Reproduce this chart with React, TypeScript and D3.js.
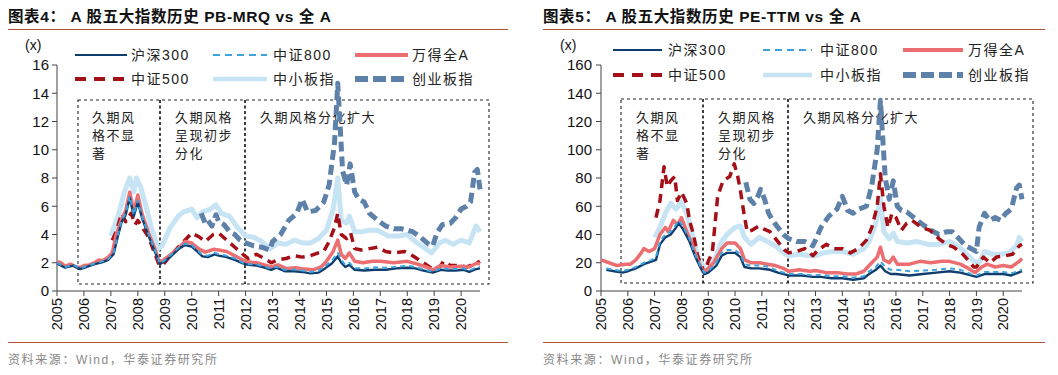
import React from "react";
import * as d3 from "d3";

type Pt = [number, number];

const years = d3.range(2005, 2021);
const pbTicks = [0, 2, 4, 6, 8, 10, 12, 14, 16];
const peTicks = [0, 20, 40, 60, 80, 100, 120, 140, 160];

const seriesNames = ["沪深300", "中证800", "万得全A", "中证500", "中小板指", "创业板指"];

// ---------- PB-MRQ ----------
const pbHS300: Pt[] = [
  [2005.0, 1.95], [2005.3, 1.65], [2005.6, 1.8], [2005.85, 1.55], [2006.1, 1.7], [2006.4, 1.9], [2006.7, 2.05], [2006.9, 2.2],
  [2007.1, 2.6], [2007.25, 3.8], [2007.4, 4.9], [2007.55, 5.4], [2007.7, 6.6], [2007.85, 5.3], [2008.0, 6.3], [2008.15, 5.2],
  [2008.4, 3.9], [2008.65, 2.7], [2008.82, 1.9], [2008.95, 2.05], [2009.2, 2.4], [2009.5, 2.95], [2009.75, 3.25], [2010.0, 3.15],
  [2010.2, 2.8], [2010.4, 2.45], [2010.6, 2.4], [2010.85, 2.6], [2011.0, 2.5], [2011.3, 2.4], [2011.6, 2.2], [2011.9, 1.95],
  [2012.1, 1.85], [2012.4, 1.8], [2012.7, 1.65], [2012.95, 1.5], [2013.15, 1.65], [2013.45, 1.4], [2013.8, 1.4], [2014.1, 1.35],
  [2014.4, 1.25], [2014.7, 1.3], [2014.95, 1.6], [2015.2, 1.95], [2015.42, 2.45], [2015.55, 2.0], [2015.7, 1.7], [2015.85, 1.85],
  [2016.05, 1.5], [2016.4, 1.45], [2016.8, 1.5], [2017.2, 1.5], [2017.6, 1.6], [2018.0, 1.65], [2018.3, 1.6], [2018.6, 1.45],
  [2018.95, 1.3], [2019.25, 1.5], [2019.5, 1.45], [2019.8, 1.45], [2020.1, 1.5], [2020.3, 1.35], [2020.55, 1.55], [2020.7, 1.6],
];
const pbZZ800: Pt[] = [
  [2005.0, 2.0], [2005.3, 1.7], [2005.6, 1.85], [2005.85, 1.6], [2006.1, 1.75], [2006.4, 1.95], [2006.7, 2.1], [2006.9, 2.25],
  [2007.1, 2.7], [2007.25, 3.9], [2007.4, 5.0], [2007.55, 5.5], [2007.7, 6.7], [2007.85, 5.4], [2008.0, 6.4], [2008.15, 5.3],
  [2008.4, 4.0], [2008.65, 2.8], [2008.82, 1.95], [2008.95, 2.1], [2009.2, 2.5], [2009.5, 3.05], [2009.75, 3.35], [2010.0, 3.25],
  [2010.2, 2.9], [2010.4, 2.55], [2010.6, 2.5], [2010.85, 2.7], [2011.0, 2.6], [2011.3, 2.5], [2011.6, 2.3], [2011.9, 2.0],
  [2012.1, 1.9], [2012.4, 1.88], [2012.7, 1.72], [2012.95, 1.58], [2013.15, 1.72], [2013.45, 1.5], [2013.8, 1.52], [2014.1, 1.45],
  [2014.4, 1.35], [2014.7, 1.42], [2014.95, 1.75], [2015.2, 2.15], [2015.42, 2.7], [2015.55, 2.2], [2015.7, 1.85], [2015.85, 2.0],
  [2016.05, 1.62], [2016.4, 1.6], [2016.8, 1.68], [2017.2, 1.65], [2017.6, 1.72], [2018.0, 1.78], [2018.3, 1.7], [2018.6, 1.52],
  [2018.95, 1.38], [2019.25, 1.6], [2019.5, 1.55], [2019.8, 1.55], [2020.1, 1.6], [2020.3, 1.45], [2020.55, 1.65], [2020.7, 1.72],
];
const pbWindA: Pt[] = [
  [2005.0, 2.08], [2005.15, 2.0], [2005.3, 1.75], [2005.5, 1.9], [2005.65, 1.75], [2005.85, 1.65], [2006.0, 1.8], [2006.2, 1.85],
  [2006.4, 2.0], [2006.55, 2.2], [2006.7, 2.15], [2006.9, 2.4], [2007.05, 2.7], [2007.2, 4.0], [2007.4, 5.1], [2007.55, 5.7],
  [2007.7, 7.0], [2007.85, 5.6], [2008.0, 6.8], [2008.15, 5.5], [2008.4, 4.1], [2008.65, 2.9], [2008.8, 2.05], [2008.95, 2.2],
  [2009.2, 2.55], [2009.5, 3.0], [2009.75, 3.5], [2010.0, 3.4], [2010.25, 3.0], [2010.5, 2.75], [2010.8, 2.95], [2011.0, 2.9],
  [2011.3, 2.8], [2011.6, 2.5], [2011.9, 2.2], [2012.1, 2.05], [2012.4, 2.0], [2012.7, 1.85], [2012.95, 1.7], [2013.2, 1.85],
  [2013.5, 1.6], [2013.85, 1.65], [2014.2, 1.55], [2014.5, 1.5], [2014.8, 1.7], [2015.0, 2.1], [2015.25, 2.8], [2015.42, 3.6],
  [2015.55, 2.6], [2015.7, 2.3], [2015.85, 2.7], [2016.05, 2.1], [2016.35, 2.0], [2016.7, 2.1], [2017.0, 2.1], [2017.5, 2.0],
  [2018.0, 2.1], [2018.3, 1.95], [2018.7, 1.7], [2018.95, 1.5], [2019.25, 1.8], [2019.6, 1.7], [2020.0, 1.75], [2020.3, 1.7],
  [2020.55, 1.95], [2020.7, 1.95],
];
const pbZZ500: Pt[] = [
  [2007.05, 3.6], [2007.2, 4.2], [2007.4, 5.5], [2007.55, 4.9], [2007.75, 5.5], [2007.9, 4.7], [2008.0, 5.0], [2008.2, 4.4],
  [2008.4, 3.8], [2008.6, 2.8], [2008.8, 1.8], [2008.95, 1.9], [2009.2, 2.5], [2009.5, 3.1], [2009.7, 3.5], [2010.0, 4.1],
  [2010.3, 3.8], [2010.5, 3.5], [2010.8, 4.0], [2011.0, 4.1], [2011.3, 3.6], [2011.6, 3.1], [2011.9, 2.6], [2012.1, 2.3],
  [2012.4, 2.6], [2012.7, 2.3], [2012.95, 2.0], [2013.2, 2.2], [2013.5, 2.3], [2013.8, 2.5], [2014.1, 2.4], [2014.4, 2.5],
  [2014.7, 2.7], [2014.9, 2.8], [2015.1, 3.5], [2015.3, 4.5], [2015.42, 5.5], [2015.55, 4.0], [2015.75, 3.7], [2015.9, 4.1],
  [2016.05, 3.0], [2016.3, 2.9], [2016.6, 3.0], [2016.9, 3.1], [2017.2, 2.8], [2017.5, 2.7], [2017.9, 2.8], [2018.2, 2.5],
  [2018.6, 2.0], [2018.9, 1.6], [2019.2, 1.7], [2019.35, 2.1], [2019.6, 1.8], [2019.9, 1.8], [2020.2, 1.7], [2020.5, 1.9],
  [2020.7, 2.1],
];
const pbZXB: Pt[] = [
  [2007.0, 3.9], [2007.3, 5.5], [2007.5, 7.0], [2007.7, 8.0], [2007.85, 7.0], [2007.95, 8.0], [2008.1, 7.4], [2008.3, 6.0],
  [2008.5, 4.5], [2008.75, 3.0], [2008.9, 3.2], [2009.2, 4.5], [2009.5, 5.3], [2009.7, 5.6], [2010.0, 5.8], [2010.2, 5.2],
  [2010.4, 5.6], [2010.7, 5.8], [2010.9, 6.1], [2011.1, 5.5], [2011.4, 5.3], [2011.7, 4.5], [2012.0, 3.9], [2012.3, 3.8],
  [2012.6, 3.5], [2012.9, 3.0], [2013.2, 3.4], [2013.5, 3.3], [2013.8, 3.6], [2014.1, 3.4], [2014.4, 3.4], [2014.7, 3.7],
  [2015.0, 4.3], [2015.25, 5.8], [2015.42, 8.0], [2015.55, 5.0], [2015.75, 4.8], [2015.85, 5.3], [2016.05, 4.2], [2016.3, 4.2],
  [2016.6, 4.3], [2016.9, 4.3], [2017.3, 3.9], [2017.7, 3.9], [2018.0, 4.0], [2018.3, 3.5], [2018.6, 3.1], [2018.9, 2.7],
  [2019.2, 3.4], [2019.4, 3.6], [2019.7, 3.3], [2020.0, 3.6], [2020.3, 3.4], [2020.55, 4.6], [2020.7, 4.2],
];
const pbCYB: Pt[] = [
  [2010.35, 5.5], [2010.5, 4.8], [2010.6, 5.0], [2010.75, 4.6], [2010.9, 5.4], [2011.0, 4.9], [2011.2, 4.7], [2011.4, 4.2],
  [2011.6, 4.0], [2011.8, 3.6], [2012.0, 3.4], [2012.3, 3.2], [2012.6, 3.1], [2012.9, 2.9], [2013.0, 3.5], [2013.3, 4.0],
  [2013.6, 5.0], [2013.9, 5.5], [2014.1, 6.5], [2014.3, 5.6], [2014.6, 5.7], [2014.9, 6.3], [2015.1, 7.5], [2015.3, 10.5],
  [2015.42, 14.7], [2015.5, 12.0], [2015.6, 8.5], [2015.75, 7.5], [2015.88, 9.0], [2016.05, 7.0], [2016.2, 6.5], [2016.4, 6.3],
  [2016.6, 5.5], [2016.9, 5.0], [2017.2, 4.6], [2017.5, 4.4], [2017.8, 4.4], [2018.0, 4.3], [2018.2, 4.2], [2018.5, 3.8],
  [2018.8, 3.3], [2018.95, 3.2], [2019.1, 4.1], [2019.3, 4.7], [2019.6, 4.8], [2019.8, 5.2], [2020.0, 5.8], [2020.2, 6.0],
  [2020.35, 6.3], [2020.5, 8.4], [2020.6, 8.6], [2020.7, 7.2],
];

// ---------- PE-TTM ----------
const peHS300: Pt[] = [
  [2005.2, 15], [2005.5, 14], [2005.8, 13], [2006.0, 14], [2006.3, 16], [2006.6, 19], [2006.9, 21], [2007.05, 22],
  [2007.2, 33], [2007.4, 38], [2007.6, 40], [2007.8, 45], [2007.9, 48], [2008.05, 44], [2008.3, 35], [2008.5, 25],
  [2008.7, 17], [2008.85, 12], [2009.0, 13], [2009.3, 18], [2009.5, 25], [2009.7, 27], [2010.0, 27], [2010.2, 24],
  [2010.35, 17], [2010.6, 16], [2010.9, 16], [2011.3, 15], [2011.6, 13], [2012.0, 11], [2012.5, 11], [2012.9, 10],
  [2013.2, 10], [2013.6, 9], [2014.0, 9], [2014.4, 8], [2014.8, 9], [2015.0, 12], [2015.25, 15], [2015.42, 18],
  [2015.6, 14], [2015.8, 12], [2016.0, 12], [2016.5, 11], [2017.0, 12], [2017.5, 13], [2018.0, 14], [2018.4, 13],
  [2018.8, 11], [2019.0, 10], [2019.3, 12], [2019.6, 12], [2020.0, 12], [2020.3, 11], [2020.7, 14],
];
const peZZ800: Pt[] = [
  [2005.2, 16], [2005.5, 15], [2005.8, 14], [2006.0, 15], [2006.3, 17], [2006.6, 20], [2006.9, 22], [2007.05, 24],
  [2007.2, 35], [2007.4, 40], [2007.6, 42], [2007.8, 47], [2007.9, 50], [2008.05, 46], [2008.3, 37], [2008.5, 26],
  [2008.7, 18], [2008.85, 13], [2009.0, 14], [2009.3, 20], [2009.5, 27], [2009.7, 29], [2010.0, 29], [2010.2, 26],
  [2010.35, 19], [2010.6, 18], [2010.9, 18], [2011.3, 17], [2011.6, 14], [2012.0, 12], [2012.5, 12], [2012.9, 11],
  [2013.2, 11.5], [2013.6, 10.5], [2014.0, 10.5], [2014.4, 9.5], [2014.8, 10.5], [2015.0, 14], [2015.25, 17], [2015.42, 21],
  [2015.6, 17], [2015.8, 15], [2016.0, 15], [2016.5, 14], [2017.0, 14.5], [2017.5, 15], [2018.0, 16], [2018.4, 15],
  [2018.8, 12], [2019.0, 11], [2019.3, 13.5], [2019.6, 13.5], [2020.0, 13.5], [2020.3, 12.5], [2020.7, 15],
];
const peWindA: Pt[] = [
  [2005.0, 22], [2005.3, 20], [2005.6, 18], [2005.9, 19], [2006.1, 19], [2006.3, 22], [2006.5, 27], [2006.6, 30],
  [2006.8, 28], [2007.0, 30], [2007.2, 40], [2007.4, 45], [2007.5, 42], [2007.7, 50], [2007.85, 47], [2008.0, 52],
  [2008.2, 42], [2008.4, 33], [2008.6, 22], [2008.8, 14], [2008.95, 15], [2009.2, 20], [2009.5, 30], [2009.7, 34],
  [2010.0, 34], [2010.2, 30], [2010.35, 22], [2010.6, 20], [2010.9, 20], [2011.2, 19], [2011.5, 18], [2011.8, 16],
  [2012.0, 14], [2012.4, 15], [2012.8, 14], [2013.0, 14.5], [2013.4, 13], [2013.8, 13], [2014.2, 12], [2014.5, 12],
  [2014.8, 14], [2015.0, 18], [2015.3, 24], [2015.42, 31], [2015.55, 22], [2015.75, 20], [2015.9, 24], [2016.05, 19],
  [2016.5, 19], [2016.9, 21], [2017.3, 20], [2017.7, 21], [2018.0, 21], [2018.4, 19], [2018.7, 16], [2018.95, 13],
  [2019.2, 17], [2019.4, 19], [2019.7, 17], [2020.0, 18], [2020.3, 17], [2020.6, 21], [2020.7, 23],
];
const peZZ500: Pt[] = [
  [2007.05, 52], [2007.2, 64], [2007.35, 88], [2007.47, 74], [2007.6, 78], [2007.75, 81], [2007.85, 64], [2008.0, 70],
  [2008.2, 62], [2008.3, 50], [2008.45, 40], [2008.6, 25], [2008.85, 13], [2009.0, 21], [2009.15, 27], [2009.35, 67],
  [2009.55, 78], [2009.8, 81], [2009.97, 90], [2010.1, 81], [2010.2, 71], [2010.33, 55], [2010.45, 42], [2010.63, 43],
  [2010.88, 46], [2011.06, 44], [2011.3, 42], [2011.55, 36], [2011.85, 29], [2012.0, 27], [2012.3, 28], [2012.6, 30],
  [2012.9, 25], [2013.1, 29], [2013.4, 33], [2013.7, 30], [2014.0, 30], [2014.3, 27], [2014.6, 30], [2014.9, 36],
  [2015.1, 45], [2015.3, 60], [2015.42, 83], [2015.55, 60], [2015.7, 45], [2015.85, 55], [2016.0, 52], [2016.2, 43],
  [2016.4, 48], [2016.6, 50], [2016.95, 45], [2017.27, 43], [2017.6, 37], [2017.9, 33], [2018.15, 31], [2018.5, 26],
  [2018.9, 17], [2019.0, 17], [2019.26, 24], [2019.5, 20], [2019.75, 24], [2020.1, 25], [2020.35, 26], [2020.6, 32],
  [2020.7, 33],
];
const peZXB: Pt[] = [
  [2007.0, 38], [2007.2, 45], [2007.4, 55], [2007.6, 62], [2007.8, 58], [2008.0, 63], [2008.2, 55], [2008.4, 40],
  [2008.6, 25], [2008.85, 16], [2009.0, 15], [2009.3, 25], [2009.5, 35], [2009.7, 40], [2010.0, 45], [2010.2, 46],
  [2010.35, 38], [2010.6, 33], [2010.9, 38], [2011.2, 35], [2011.5, 32], [2011.8, 27], [2012.0, 25], [2012.4, 26],
  [2012.8, 25], [2013.0, 25], [2013.3, 27], [2013.6, 28], [2014.0, 28], [2014.4, 26], [2014.8, 30], [2015.0, 35],
  [2015.25, 48], [2015.42, 66], [2015.55, 42], [2015.75, 37], [2015.9, 41], [2016.05, 35], [2016.4, 34], [2016.8, 35],
  [2017.2, 33], [2017.6, 33], [2018.0, 35], [2018.3, 32], [2018.6, 27], [2018.9, 21], [2019.1, 20], [2019.3, 28],
  [2019.6, 26], [2019.9, 26], [2020.2, 27], [2020.5, 32], [2020.6, 38], [2020.7, 35],
];
const peCYB: Pt[] = [
  [2010.4, 77], [2010.55, 65], [2010.7, 62], [2010.85, 67], [2010.95, 72], [2011.1, 65], [2011.25, 55], [2011.4, 50],
  [2011.6, 45], [2011.8, 40], [2012.0, 37], [2012.3, 35], [2012.6, 35], [2012.9, 32], [2013.0, 36], [2013.2, 45],
  [2013.5, 53], [2013.8, 58], [2014.0, 67], [2014.2, 57], [2014.4, 55], [2014.6, 58], [2014.9, 60], [2015.1, 75],
  [2015.3, 100], [2015.42, 135], [2015.5, 110], [2015.6, 80], [2015.75, 65], [2015.9, 78], [2016.05, 60], [2016.2, 57],
  [2016.4, 56], [2016.6, 53], [2016.8, 50], [2017.0, 47], [2017.3, 43], [2017.6, 40], [2017.9, 42], [2018.1, 42],
  [2018.3, 38], [2018.6, 32], [2018.9, 29], [2019.0, 28], [2019.1, 45], [2019.3, 55], [2019.5, 50], [2019.7, 52],
  [2019.9, 50], [2020.1, 55], [2020.3, 58], [2020.5, 73], [2020.6, 75], [2020.7, 65],
];

const periodLabels = [["久期风", "格不显", "著"], ["久期风格", "呈现初步", "分化"], ["久期风格分化扩大"]];

type Style = { color: string; width: number; dash?: string; lw: number; ldash?: string };
const styles: Style[] = [
  { color: "#0f3e6e", width: 2.4, lw: 2 },
  { color: "#3ea3dc", width: 2, dash: "5,4", lw: 2, ldash: "7,5" },
  { color: "#ec6e70", width: 3.5, lw: 4 },
  { color: "#a50f17", width: 3.5, dash: "9,6", lw: 4, ldash: "11,8" },
  { color: "#c6e4f3", width: 5, lw: 4.5 },
  { color: "#5e81aa", width: 5, dash: "10,5", lw: 6, ldash: "13,5" },
];
const drawOrder = [4, 5, 3, 2, 0, 1];

const FONT_NUM = "Arial, 'Liberation Sans', sans-serif";
const FONT_CJK = "'Noto Sans CJK SC', sans-serif";
const FONT_MIX = "Arial, 'Liberation Sans', 'Noto Sans CJK SC', sans-serif";

type ChartProps = {
  ox: number;
  title: string;
  data: Pt[][];
  yMax: number;
  yTicks: number[];
  axisX: number;
  axisEnd: number;
  legendRows: [number, number];
  legendCols: [number, number, number][];
  boxTop: number;
  boxBottom: number;
  boxXs: number[];
  textXs: number[];
  labelRight: number;
  xLabelX: number;
  ruleEnd: number;
};

function Chart(p: ChartProps) {
  const x = d3.scaleLinear().domain([2005, 2020.7]).range([p.axisX, p.axisEnd]);
  const y = d3.scaleLinear().domain([0, p.yMax]).range([291, 65]);
  const line = d3.line<Pt>().x((d) => x(d[0])).y((d) => y(d[1])).curve(d3.curveLinear);
  const xb = p.boxXs;
  return (
    <g>
      <text x={p.ox} y={22} fontFamily={FONT_MIX} fontWeight={700} fontSize={15.5} letterSpacing={0.6} fill="#111">
        {p.title}
      </text>
      <line x1={p.ox} x2={p.ruleEnd} y1={29.5} y2={29.5} stroke="#b0523a" strokeWidth={1} />
      <line x1={p.ox} x2={p.ruleEnd} y1={342.5} y2={342.5} stroke="#b0523a" strokeWidth={1} />
      <text x={p.ox} y={364} fontFamily={FONT_MIX} fontSize={12} letterSpacing={1.6} fill="#888">
        资料来源：Wind，华泰证券研究所
      </text>
      <text x={p.xLabelX} y={50} fontFamily={FONT_NUM} fontSize={14} fill="#111">(x)</text>
      {/* y axis */}
      <line x1={p.axisX} x2={p.axisX} y1={y(p.yMax)} y2={y(0)} stroke="#444" strokeWidth={1} />
      {p.yTicks.map((t) => (
        <g key={t}>
          <line x1={p.axisX - 5} x2={p.axisX} y1={y(t)} y2={y(t)} stroke="#444" />
          <text x={p.labelRight} y={y(t)} dy="0.36em" textAnchor="end" fontFamily={FONT_NUM} fontSize={15} fill="#111">
            {t}
          </text>
        </g>
      ))}
      {/* x axis */}
      <line x1={p.axisX} x2={p.axisEnd} y1={y(0)} y2={y(0)} stroke="#444" strokeWidth={1} />
      {years.map((yr) => (
        <g key={yr}>
          <line x1={x(yr)} x2={x(yr)} y1={y(0)} y2={y(0) + 5} stroke="#444" />
          <text
            transform={`translate(${x(yr)},${y(0) + 7}) rotate(-90)`}
            dy="0.36em"
            textAnchor="end"
            fontFamily={FONT_NUM}
            fontSize={14.5}
            fill="#111"
          >
            {yr}
          </text>
        </g>
      ))}
      {/* period boxes */}
      <rect
        x={xb[0]}
        y={p.boxTop}
        width={xb[3] - xb[0]}
        height={p.boxBottom - p.boxTop}
        fill="none"
        stroke="#222"
        strokeWidth={1.1}
        strokeDasharray="3,3"
      />
      {[xb[1], xb[2]].map((bx, i) => (
        <line key={i} x1={bx} x2={bx} y1={p.boxTop} y2={p.boxBottom} stroke="#111" strokeWidth={1.6} strokeDasharray="3,2.5" />
      ))}
      {periodLabels.map((lines, i) =>
        lines.map((s, j) => (
          <text
            key={`${i}-${j}`}
            x={p.textXs[i]}
            y={117 + j * 18}
            dy="0.36em"
            fontFamily={FONT_CJK}
            fontSize={13}
            letterSpacing={1.5}
            fill="#222"
          >
            {s}
          </text>
        ))
      )}
      {/* series */}
      {drawOrder.map((k) => (
        <path
          key={k}
          d={line(p.data[k]) || ""}
          fill="none"
          stroke={styles[k].color}
          strokeWidth={styles[k].width}
          strokeDasharray={styles[k].dash}
          strokeLinejoin="round"
        />
      ))}
      {/* legend */}
      {seriesNames.map((name, i) => {
        const row = Math.floor(i / 3);
        const col = i % 3;
        const [x0, x1, tx] = p.legendCols[col];
        const ly = p.legendRows[row];
        return (
          <g key={name}>
            <line x1={x0} x2={x1} y1={ly} y2={ly} stroke={styles[i].color} strokeWidth={styles[i].lw} strokeDasharray={styles[i].ldash} />
            <text x={tx} y={ly} dy="0.36em" fontFamily={FONT_MIX} fontSize={14} letterSpacing={1.5} fill="#222">
              {name}
            </text>
          </g>
        );
      })}
    </g>
  );
}

export default function App() {
  return (
    <svg width={1058} height={375} style={{ position: "absolute", left: 0, top: 0, background: "#fff" }}>
      <rect width={1058} height={375} fill="#fff" />
      <Chart
        ox={8}
        title="图表4：  A 股五大指数历史 PB-MRQ vs  全 A"
        data={[pbHS300, pbZZ800, pbWindA, pbZZ500, pbZXB, pbCYB]}
        yMax={16}
        yTicks={pbTicks}
        axisX={57}
        axisEnd={480}
        legendRows={[55, 79]}
        legendCols={[[75, 127, 131], [213, 267, 273], [355, 408, 412]]}
        boxTop={100}
        boxBottom={284}
        boxXs={[78, 160, 245, 489]}
        textXs={[92, 175, 260]}
        labelRight={49}
        xLabelX={25}
        ruleEnd={508}
      />
      <Chart
        ox={543}
        title="图表5：  A 股五大指数历史 PE-TTM vs  全 A"
        data={[peHS300, peZZ800, peWindA, peZZ500, peZXB, peCYB]}
        yMax={160}
        yTicks={peTicks}
        axisX={601}
        axisEnd={1022}
        legendRows={[50, 75]}
        legendCols={[[613, 662, 668], [763, 812, 820], [903, 963, 968]]}
        boxTop={99}
        boxBottom={283}
        boxXs={[621, 703, 788, 1033]}
        textXs={[636, 718, 803]}
        labelRight={592}
        xLabelX={560}
        ruleEnd={1045}
      />
    </svg>
  );
}
